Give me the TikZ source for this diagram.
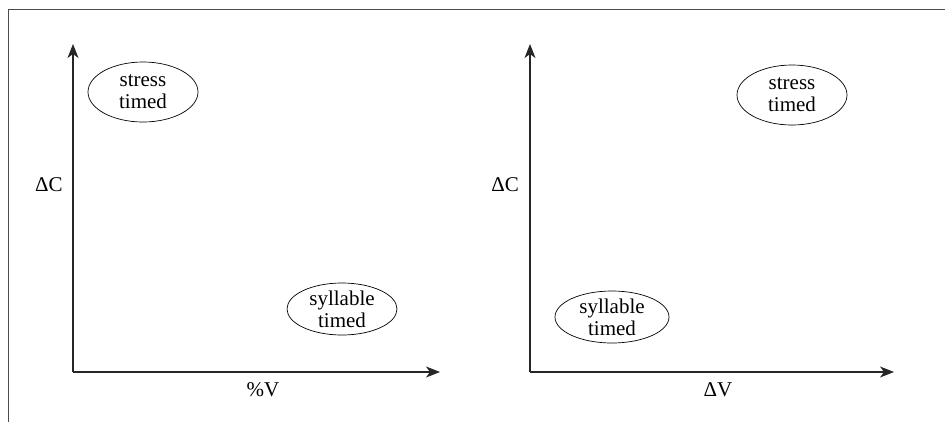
\documentclass[tikz,border=0pt]{standalone}
\usepackage{fontspec}
\setmainfont{Liberation Serif}
\usetikzlibrary{arrows.meta,shapes.geometric}
\begin{document}
\begin{tikzpicture}[x=1pt,y=-1pt,
  axis/.style={line width=1.1pt,draw=black!85,-{Stealth[length=14pt,width=11pt,inset=4pt]}},
  frameline/.style={line width=1pt,draw=black!70},
  regime/.style={ellipse,draw,line width=0.7pt,font=\fontsize{21}{24}\selectfont,align=center,
     minimum width=110pt,minimum height=60pt,inner sep=0pt},
  lab/.style={font=\fontsize{21}{24}\selectfont,inner sep=0pt}]
\useasboundingbox (0,0) rectangle (945,421);
% outer frame (top and left edges)
\coordinate (ftl) at (8,9);
\coordinate (ftr) at (946,9);
\coordinate (fbl) at (8,422);
\draw[frameline] (ftr) -- (ftl) -- (fbl);
% left panel
\coordinate (o1) at (73,372);
\coordinate (y1) at (73,44);
\coordinate (x1) at (440,372);
\draw[axis] (o1) -- (y1);
\draw[axis] (o1) -- (x1);
\node[lab] (c1) at (49,185) {ΔC};
\node[lab] (v1) at (263,390) {\%V};
\node[regime] (st1) at (143,92) {stress\\[-2pt]timed};
\node[regime,minimum height=52pt] (sy1) at (342,309) {syllable\\[-2pt]timed};
% right panel
\coordinate (o2) at (530,372);
\coordinate (y2) at (530,44);
\coordinate (x2) at (894,372);
\draw[axis] (o2) -- (y2);
\draw[axis] (o2) -- (x2);
\node[lab] (c2) at (505,185) {ΔC};
\node[lab] (v2) at (718,390) {ΔV};
\node[regime] (st2) at (792,95) {stress\\[-2pt]timed};
\node[regime,minimum height=52pt,minimum width=114pt] (sy2) at (612,317) {syllable\\[-2pt]timed};
\end{tikzpicture}
\end{document}
